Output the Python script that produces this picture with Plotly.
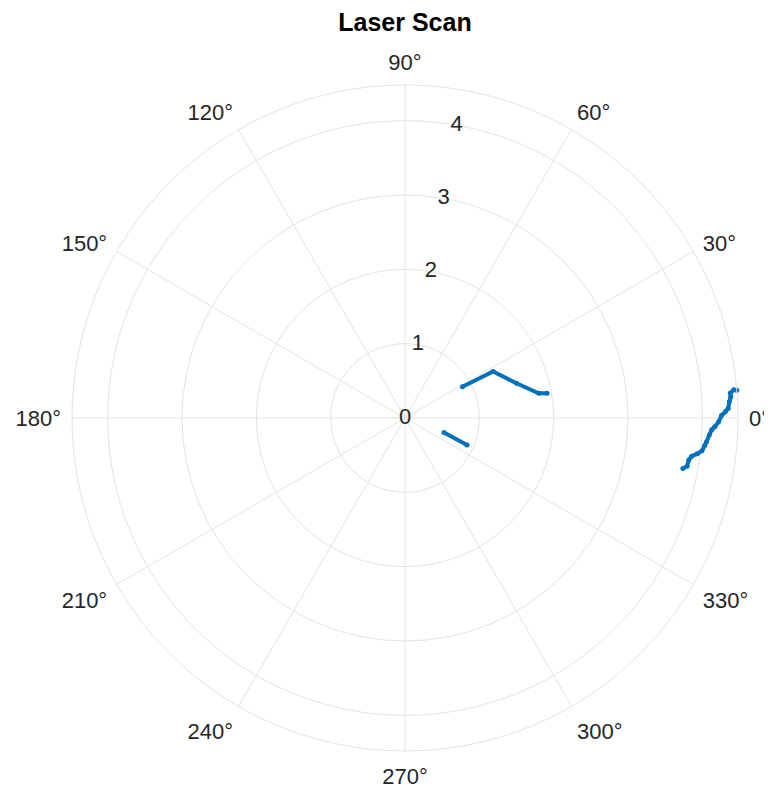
import plotly.graph_objects as go

# Scan segments (range in metres, angle in degrees)
wall_far_r = [3.80, 3.85, 3.86, 3.89, 3.96, 4.02, 4.05, 4.07, 4.10, 4.13,
              4.17, 4.22, 4.26, 4.31, 4.35, 4.37, 4.39, 4.39, 4.44, 4.48]
wall_far_theta = [-10.3, -9.7, -8.4, -7.6, -7.0, -6.3, -5.2, -4.5, -3.2, -2.2,
                  -1.6, -0.7, 0.5, 1.1, 1.7, 2.9, 3.7, 4.4, 4.9, 4.8]
obj_near_r = [1.94, 1.83, 1.57, 1.34, 0.88]
obj_near_theta = [9.9, 10.5, 17.3, 27.8, 28.5]
obj_low_r = [0.56, 0.91]
obj_low_theta = [-20.4, -23.5]

rmax = 4.48
r_ticks = [0, 1, 2, 3, 4]
r_axis_angle = 80
theta_ticks = list(range(0, 360, 30))
theta_labels = [f"{t}°" for t in theta_ticks]

blue = "#0072BD"
grid = "#e3e3e3"
txt = "#262626"
FONT = "Arial, Liberation Sans, sans-serif"

fig = go.Figure()
# radial tick labels, centred on the r-axis at 80 degrees (as in the reference)
fig.add_trace(go.Scatterpolar(r=r_ticks, theta=[r_axis_angle] * len(r_ticks),
                              mode="text", text=[str(v) for v in r_ticks],
                              textfont=dict(family=FONT, size=22, color=txt),
                              textposition="middle center",
                              showlegend=False, hoverinfo="skip", cliponaxis=False))
for rr, tt in [(wall_far_r, wall_far_theta), (obj_near_r, obj_near_theta), (obj_low_r, obj_low_theta)]:
    fig.add_trace(go.Scatterpolar(r=rr, theta=tt, mode="lines+markers",
                                  line=dict(color=blue, width=4),
                                  marker=dict(color=blue, size=5),
                                  showlegend=False, hoverinfo="skip", cliponaxis=False))

fig.update_layout(
    width=772, height=791,
    margin=dict(l=0, r=0, t=0, b=0),
    paper_bgcolor="white",
    font=dict(family=FONT, size=22, color=txt),
    title=dict(text="<b>Laser Scan</b>", x=397/772, xanchor="center", y=1 - 14/791, yanchor="middle",
               font=dict(family=FONT, size=25, color="#000000")),
    polar=dict(
        domain=dict(x=[64/772, 730/772], y=[48/791, 714/791]),
        bgcolor="white",
        angularaxis=dict(direction="counterclockwise", rotation=0,
                         tickmode="array", tickvals=theta_ticks, ticktext=theta_labels,
                         showline=True, linecolor=grid, linewidth=1,
                         gridcolor=grid, gridwidth=1,
                         ticks="outside", ticklen=6, tickcolor="rgba(0,0,0,0)",
                         tickfont=dict(family=FONT, size=22, color=txt)),
        radialaxis=dict(range=[0, rmax], angle=r_axis_angle,
                        tickmode="array", tickvals=r_ticks,
                        showticklabels=False,
                        showline=False, gridcolor=grid, gridwidth=1, ticks=""),
    ),
)

fig.write_html("out.html")
